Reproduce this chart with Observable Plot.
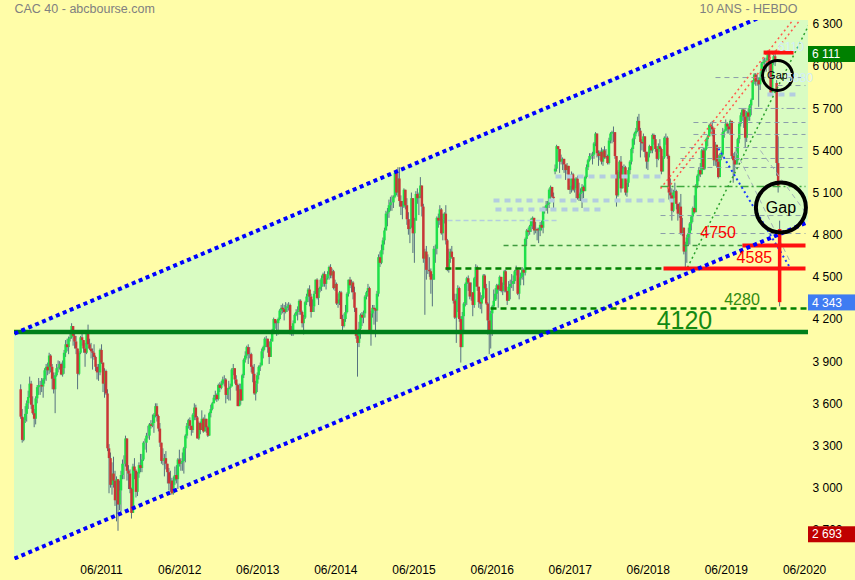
<!DOCTYPE html>
<html><head><meta charset="utf-8">
<script src="https://cdn.jsdelivr.net/npm/d3@7"></script>
<script src="https://cdn.jsdelivr.net/npm/@observablehq/plot@0.6"></script>
<style>
html,body{margin:0;padding:0;background:#fffda8;}
#chart{width:855px;height:580px;overflow:hidden;}
</style>
</head><body><div id="chart"></div>
<script>
// ---------- DATA ----------
const firstWeek = "2010-06-21"; // weekly candles, one per week from this Monday
const closes = [
3505,3340,3480,3525,3600,3645,3740,3590,3530,3490,3635,3715,3730,3730,3720,3770,3835,3860,3835,3940,3860,3775,3700,3800,3850,3855,3880,3805,
3850,3960,4020,4000,4060,4070,4150,4080,4040,3990,3810,3960,4070,4050,3990,3960,4105,4020,3990,3970,3960,3930,3860,3820,3820,3980,3890,3740,3830,3670,3280,3210,3020,3100,3050,2910,3060,2880,2980,3090,3170,3170,3350,3120,3100,2990,2820,3150,3120,2970,3100,3160,
3140,3200,3320,3320,3370,3370,3450,3440,3460,3520,3580,3510,3420,3320,3190,3190,3210,3170,3110,3030,3050,2960,3050,3090,3060,3200,3170,3180,3190,3280,3370,3440,3480,3440,3410,3520,3570,3500,3350,3460,3410,3490,3400,3490,3430,3370,3530,3560,3600,3640,3660,3630,3730,
3710,3740,3770,3770,3660,3700,3710,3720,3840,3850,3770,3730,3580,3700,3620,3800,3910,3940,4000,3950,3950,3860,3810,3670,3740,3800,3860,3870,3970,4000,4060,4060,4000,3930,4040,4120,4200,4170,4170,4200,4260,4280,4270,4250,4280,4290,4300,4110,4100,4170,4230,4250,
4260,4330,4250,4170,4210,4320,4360,4410,4360,4250,4290,4380,4480,4350,4410,4430,4490,4520,4450,4490,4520,4570,4510,4540,4420,4450,4310,4340,4390,4200,4150,4200,4250,4380,4480,4440,4460,4390,4280,4080,4030,4130,4230,4210,4240,4360,4390,4420,4110,4240,4280,4270,
4260,4380,4640,4600,4690,4760,4830,4950,4960,5010,5030,5030,5070,5240,5100,5200,5040,5000,5000,5120,5010,4910,4840,4860,5060,4810,4900,5090,5060,5080,5150,5000,4630,4680,4550,4550,4540,4480,4480,4700,4700,4920,4900,4980,4810,4910,4950,4760,4550,4630,4680,4640,
4330,4210,4340,4420,4200,4000,4220,4310,4450,4490,4460,4360,4390,4300,4490,4570,4430,4320,4310,4350,4510,4420,4310,4190,4110,4240,4290,4330,4380,4440,4410,4500,4400,4440,4540,4400,4330,4430,4450,4450,4470,4540,4550,4380,4490,4500,4550,4530,4770,4830,4820,4860,
4910,4920,4830,4840,4830,4830,4870,4850,4990,4990,5010,5020,5120,5140,5070,5060,5270,5430,5410,5320,5340,5340,5300,5260,5290,5120,5150,5230,5120,5130,5200,5060,5090,5100,5140,5110,5210,5280,5330,5360,5360,5370,5450,5520,5380,5360,5390,5320,5400,5350,5360,5310,
5470,5520,5530,5530,5360,5080,5250,5320,5130,5270,5280,5100,5170,5260,5320,5410,5480,5520,5540,5610,5540,5460,5450,5500,5390,5320,5380,5430,5400,5510,5480,5410,5340,5430,5410,5250,5350,5490,5490,5360,5100,5080,4970,5100,5110,5020,4950,5000,4810,4850,4680,4730,4780,
4810,4880,4930,4990,4960,5150,5220,5260,5230,5400,5270,5410,5480,5500,5580,5570,5550,5330,5440,5320,5210,5360,5370,5530,5540,5590,5570,5550,5610,5360,5330,5300,5330,5480,5590,5650,5690,5640,5490,5670,5640,5720,5760,5890,5940,5890,5900,5870,5920,6020,6030,6040,
6040,6100,6020,5810,6030,6070,6030,5310,5140,4343
];
const highs = [
3735,3560,3500,3580,3620,3690,3790,3760,3650,3560,3650,3730,3780,3760,3780,3780,3850,3880,3890,3960,3950,3880,3820,3820,3880,3905,3900,3890,
3905,3980,4050,4060,4075,4110,4170,4150,4110,4080,3990,3970,4080,4100,4050,4030,4110,4160,4060,4030,3990,4020,3940,3880,3880,3990,4020,3860,3850,3840,3700,3310,3250,3180,3220,3120,3080,3060,3050,3120,3200,3230,3370,3330,3160,3130,3000,3170,3210,3130,3110,3180,
3240,3240,3330,3350,3390,3440,3460,3480,3520,3530,3600,3600,3520,3460,3300,3280,3240,3260,3160,3140,3120,3070,3080,3150,3160,3210,3270,3210,3250,3290,3380,3460,3490,3500,3440,3530,3600,3590,3510,3470,3470,3550,3500,3520,3490,3440,3540,3590,3610,3660,3690,3670,3740,
3750,3760,3790,3800,3780,3710,3760,3740,3850,3880,3840,3800,3740,3740,3740,3810,3920,3970,4010,4020,4000,3960,3870,3880,3760,3820,3870,3890,3990,4010,4070,4080,4060,4040,4060,4130,4210,4200,4190,4210,4270,4300,4310,4300,4320,4310,4320,4310,4150,4190,4240,4270,
4290,4340,4340,4260,4230,4330,4380,4420,4440,4380,4340,4400,4480,4490,4420,4480,4510,4530,4540,4510,4540,4580,4590,4560,4550,4480,4460,4380,4400,4400,4230,4240,4300,4390,4480,4500,4480,4470,4430,4280,4100,4180,4240,4250,4260,4370,4400,4450,4430,4260,4300,4300,
4280,4400,4660,4680,4730,4780,4850,4970,4990,5050,5070,5080,5080,5250,5240,5280,5280,5080,5040,5130,5110,5060,4960,4910,5100,5060,4920,5110,5130,5100,5210,5140,5020,4700,4720,4660,4640,4560,4520,4720,4730,4930,4950,5010,4990,4950,4960,5010,4770,4700,4700,4720,
4640,4380,4380,4440,4430,4220,4250,4320,4460,4500,4510,4460,4460,4390,4500,4590,4580,4430,4390,4370,4520,4520,4450,4320,4470,4260,4300,4410,4420,4450,4450,4510,4500,4460,4550,4550,4400,4470,4480,4520,4510,4550,4580,4560,4550,4530,4570,4560,4780,4840,4850,4870,
4920,4930,4920,4890,4850,4850,4890,4900,5000,5000,5040,5040,5130,5150,5140,5100,5300,5440,5430,5410,5370,5350,5340,5300,5310,5290,5200,5250,5240,5200,5210,5220,5170,5130,5160,5150,5220,5300,5340,5380,5380,5390,5460,5530,5520,5400,5400,5420,5410,5430,5410,5370,
5490,5530,5540,5570,5530,5330,5260,5330,5360,5290,5300,5290,5190,5280,5330,5420,5490,5530,5560,5640,5660,5560,5480,5520,5480,5390,5390,5440,5430,5520,5520,5510,5430,5450,5480,5420,5360,5500,5520,5500,5370,5200,5130,5120,5170,5120,5020,5030,5090,4920,4850,4750,4800,
4850,4890,4940,5000,5080,5160,5230,5280,5310,5410,5420,5420,5490,5510,5590,5600,5610,5560,5460,5420,5370,5380,5400,5560,5550,5620,5600,5590,5620,5610,5380,5390,5420,5490,5600,5670,5700,5700,5690,5680,5700,5730,5770,5900,5950,5950,5940,5920,5960,6030,6050,6060,
6060,6110,6100,6020,6040,6080,6111,5900,5500,4900
];
const lows = [
3490,3320,3330,3460,3470,3560,3640,3560,3520,3430,3450,3600,3660,3660,3680,3640,3740,3760,3800,3810,3820,3700,3670,3530,3790,3820,3840,3800,
3790,3810,3930,3970,3950,4040,4060,4010,3990,3950,3700,3800,3950,4010,3960,3860,3950,3990,3980,3920,3840,3910,3830,3770,3760,3800,3880,3680,3640,3660,3260,2960,3000,2950,3000,2870,2760,2693,2840,2830,3060,3060,3150,3050,2990,2960,2780,2830,3060,2930,2940,3070,
3110,3110,3190,3270,3250,3350,3340,3420,3430,3390,3500,3470,3400,3290,3170,3160,3080,3130,3030,2980,2970,2950,2950,3020,3030,2990,3150,3120,3120,3100,3180,3350,3420,3410,3370,3390,3480,3480,3350,3340,3380,3420,3390,3400,3390,3360,3380,3500,3550,3600,3620,3610,3620,
3680,3700,3730,3720,3600,3630,3620,3620,3720,3800,3740,3690,3580,3600,3590,3640,3780,3890,3920,3880,3920,3820,3750,3660,3620,3680,3770,3830,3870,3920,3980,4000,3960,3880,3930,4040,4100,4130,4080,4090,4190,4230,4240,4190,4240,4250,4260,4090,4080,4080,4170,4220,
4190,4230,4230,4140,4090,4200,4300,4320,4290,4210,4250,4250,4380,4340,4300,4390,4400,4430,4430,4410,4480,4480,4490,4490,4410,4400,4300,4280,4300,4200,4110,4140,4180,4240,4360,4420,4390,4340,4250,4060,3790,4000,4060,4150,4170,4210,4340,4360,4100,4010,4210,4160,
4070,4180,4360,4570,4590,4660,4730,4830,4860,4920,4970,4970,4990,5060,5080,5070,5000,4940,4910,4990,4980,4870,4800,4740,4850,4670,4600,4900,5020,4940,5060,4930,4600,4230,4480,4520,4500,4380,4290,4490,4600,4660,4850,4870,4800,4760,4880,4730,4540,4530,4600,4630,
4310,4200,4030,4250,4180,3890,4050,4120,4290,4300,4400,4340,4330,4220,4280,4430,4400,4280,4270,4240,4340,4410,4300,4090,3950,3990,4080,4280,4330,4340,4280,4400,4390,4370,4390,4390,4300,4340,4340,4420,4400,4450,4510,4370,4340,4440,4480,4440,4510,4720,4790,4800,
4820,4840,4800,4810,4760,4740,4790,4830,4810,4950,4970,4950,4990,5050,5060,4990,5230,5250,5320,5240,5300,5260,5240,5190,5230,5120,5090,5100,5110,5100,5060,5050,5040,5040,4990,5060,5110,5200,5260,5320,5340,5300,5340,5430,5350,5290,5330,5300,5290,5340,5340,5300,
5300,5450,5450,5460,5340,5000,5070,5200,5100,5130,5230,5080,5070,5140,5230,5300,5380,5440,5500,5530,5500,5350,5400,5390,5350,5270,5260,5350,5380,5380,5440,5390,5280,5330,5390,5230,5250,5340,5440,5340,5050,5040,4900,4960,5060,4980,4900,4920,4800,4790,4660,4555,4600,
4720,4730,4830,4890,4950,4990,5130,5180,5210,5250,5260,5260,5400,5430,5500,5520,5500,5290,5290,5280,5200,5210,5330,5350,5490,5540,5520,5520,5510,5340,5170,5240,5300,5300,5450,5570,5610,5560,5420,5460,5610,5610,5650,5760,5870,5860,5860,5710,5830,5900,6010,5980,
5960,6040,5960,5790,5800,6010,6000,5220,5100,4290
];
// weeks whose open differs from the previous close (gaps)
const openGaps = [["2010-06-21", 3700], ["2017-04-24", 5250], ["2020-02-24", 5880], ["2020-03-09", 4830]];

// trend channel (date, value)
const channelUpper = [["2010-05-23", 4100], ["2020-07-22", 6497]];
const channelLower = [["2010-05-23", 2499], ["2020-07-22", 4895]];
// horizontal levels [from, to, value]
const level4120 = [4112];
const greenDashed = [["2015-11-28", "2018-09-13", 4563], ["2016-06-26", "2020-07-22", 4278]];
const greenThinDashed = [["2016-08-26", "2019-09-17", 4727]];
const greenDashDot = [["2018-08-30", "2020-07-08", 5147]];
const redLevels = [["2018-09-13", "2020-07-08", 4563], ["2019-09-17", "2020-07-08", 4727], ["2019-12-25", "2020-05-13", 6100]];
const paleBlueThick = [["2017-04-26", "2018-09-13", 5218], ["2016-07-10", "2018-10-30", 5047], ["2016-07-19", "2017-12-06", 4983], ["2020-01-12", "2020-06-14", 5801]];
const paleBlueThin = [["2015-12-08", "2017-05-10", 4905]];
const grayDashed = [["2019-05-14", "2020-07-08", 5922], ["2020-02-28", "2020-07-08", 5865], ["2019-01-31", "2020-07-08", 5602],
  ["2019-01-31", "2020-07-08", 5517], ["2018-12-01", "2020-07-08", 5424], ["2018-12-01", "2020-07-08", 5346], ["2018-12-01", "2020-07-08", 5282],
  ["2018-08-30", "2020-07-08", 4940], ["2018-08-30", "2020-07-08", 4812]];
const grayDashDot = [["2019-08-30", "2020-07-08", 5702]];
// trend segments [[date, value], [date, value]]
const redTrends = [[["2018-08-30", 5132], ["2020-06-14", 6399]], [["2018-10-02", 5132], ["2020-07-17", 6399]]];
const greenTrends = [[["2019-01-03", 4570], ["2020-07-22", 6292]]];
const blueTrends = [[["2019-05-28", 5417], ["2020-04-29", 4563]]];
const grayTrends = [[["2019-08-16", 5403], ["2020-04-29", 4606]], [["2019-12-10", 5403], ["2020-07-08", 4962]]];
// last weekly candle highlighted in red
const lastBar = [["2020-03-09", 4840, 4320]];
// annotations
const gapTop = [["2020-02-28", 5937, "Gap"]];
const gapBottom = [["2020-03-15", 4997, "Gap"]];
const bigLabel = [["2018-12-20", 4186, "4120"]];
const greenLabels = [["2019-09-15", 4342, "4280"]];
const redLabels = [["2019-05-26", 4816, "4750"], ["2019-11-12", 4638, "4585"]];
const paleLabels = [["2020-05-01", 6135, "6110"], ["2020-06-10", 5915, "5880"]];
// axes
const yTicks = [2700, 3000, 3300, 3600, 3900, 4200, 4500, 4800, 5100, 5400, 5700, 6000, 6300];
const xTicks = ["2011-06-01", "2012-06-01", "2013-06-01", "2014-06-01", "2015-06-01", "2016-06-01", "2017-06-01", "2018-06-01", "2019-06-01", "2020-06-01"];
const xDomain = ["2010-05-23", "2020-07-22"];
const yDomain = [2485, 6328];
// price tags on the right
const tagValues = [6111, 4343, 2693];
const tagColors = ["#008000", "#3f7cf2", "#c00000"];

// ---------- BUILD ----------
const parse = s => new Date(s + "T00:00:00Z");
const fr = d3.formatLocale({decimal: ",", thousands: " ", grouping: [3], currency: ["", " €"]});
const fmt = fr.format(",d");
const gapMap = new Map(openGaps);
const t0 = parse(firstWeek);
const candles = closes.map((c, i) => {
  const date = d3.utcDay.offset(t0, 7 * i);
  const key = d3.utcFormat("%Y-%m-%d")(date);
  const open = gapMap.has(key) ? gapMap.get(key) : closes[i - 1];
  const h = highs[i] ?? Math.max(open, c), l = lows[i] ?? Math.min(open, c);
  return {date, open, close: c, high: Math.max(h, open, c), low: Math.min(l, open, c)};
});
const up = candles.filter(d => d.close >= d.open);
const down = candles.filter(d => d.close < d.open);

const channelFill = channelUpper.map((u, i) => ({date: parse(u[0]), hi: u[1], lo: channelLower[i][1]}));
const pts = arr => arr.map(([d, v]) => ({date: parse(d), v}));
const seg = ([a, b, v]) => ({x1: parse(a), x2: parse(b), y1: v, y2: v});
const diag = ([[a, v1], [b, v2]]) => ({x1: parse(a), x2: parse(b), y1: v1, y2: v2});
const lab = ([d, v, t]) => ({date: parse(d), v, t});
const L = {x1: "x1", x2: "x2", y1: "y1", y2: "y2", clip: true, strokeLinecap: "butt"};
const T = {x: "date", y: "v", text: "t", textAnchor: "middle", lineAnchor: "middle"};
const font = "Liberation Sans, Arial, Helvetica, sans-serif";

const chart = Plot.plot({
  width: 855, height: 580,
  marginLeft: 14, marginRight: 47, marginTop: 20, marginBottom: 20,
  style: {background: "transparent", fontFamily: font, fontSize: "12px", color: "#000", overflow: "visible"},
  x: {type: "utc", domain: xDomain.map(parse), axis: null},
  y: {type: "linear", domain: yDomain, axis: null},
  marks: [
    Plot.areaY(channelFill, {x: "date", y1: "lo", y2: "hi", fill: "#d9fcc2", clip: true}),
    // candles
    Plot.ruleX(candles, {x: "date", y1: "low", y2: "high", stroke: "#56717f", strokeWidth: 1}),
    Plot.ruleX(up, {x: "date", y1: "open", y2: "close", stroke: "#1fe04a", strokeWidth: 2.5}),
    Plot.ruleX(down, {x: "date", y1: "open", y2: "close", stroke: "#c83636", strokeWidth: 2.5}),
    // supports / resistances
    Plot.link(paleBlueThick.map(seg), {...L, stroke: "#b4cde0", strokeWidth: 4, strokeDasharray: "6,5"}),
    Plot.link(paleBlueThin.map(seg), {...L, stroke: "#b4cde0", strokeWidth: 1.5, strokeDasharray: "5,3"}),
    Plot.link(grayDashed.map(seg), {...L, stroke: "#8b9cab", strokeWidth: 1, strokeDasharray: "5,4"}),
    Plot.link(grayDashDot.map(seg), {...L, stroke: "#8b9cab", strokeWidth: 1, strokeDasharray: "8,3,2,3"}),
    Plot.link(grayTrends.map(diag), {...L, stroke: "#a3b0b8", strokeWidth: 1, strokeDasharray: "5,4"}),
    Plot.link(greenThinDashed.map(seg), {...L, stroke: "#3f9a3f", strokeWidth: 1.5, strokeDasharray: "5,4"}),
    Plot.link(greenDashDot.map(seg), {...L, stroke: "#3fa83f", strokeWidth: 1.5, strokeDasharray: "8,3,2,3"}),
    Plot.link(greenDashed.map(seg), {...L, stroke: "#008000", strokeWidth: 2.5, strokeDasharray: "6,4"}),
    Plot.link(redTrends.map(diag), {...L, stroke: "#ff5a4a", strokeWidth: 1.5, strokeDasharray: "2,3"}),
    Plot.link(greenTrends.map(diag), {...L, stroke: "#2ca02c", strokeWidth: 1.5, strokeDasharray: "2,3"}),
    Plot.link(blueTrends.map(diag), {...L, stroke: "#1a3cff", strokeWidth: 2, strokeDasharray: "2,3"}),
    Plot.link(redLevels.map(seg), {...L, stroke: "#ff1010", strokeWidth: 4}),
    Plot.ruleX(lastBar.map(([d, a, b]) => ({date: parse(d), a, b})), {x: "date", y1: "a", y2: "b", stroke: "#ff1010", strokeWidth: 3.5}),
    Plot.ruleY(level4120, {stroke: "#00801a", strokeWidth: 4.5}),
    // channel
    Plot.line(pts(channelUpper), {x: "date", y: "v", stroke: "#0000ff", strokeWidth: 4, strokeDasharray: "4,3.5", strokeLinecap: "butt", clip: true}),
    Plot.line(pts(channelLower), {x: "date", y: "v", stroke: "#0000ff", strokeWidth: 4, strokeDasharray: "4,3.5", strokeLinecap: "butt", clip: true}),
    // gap circles
    Plot.dot(gapTop.map(lab), {x: "date", y: "v", r: 15, stroke: "#000", strokeWidth: 3, fill: "none"}),
    Plot.dot(gapBottom.map(lab), {x: "date", y: "v", r: 25, stroke: "#000", strokeWidth: 4, fill: "none"}),
    Plot.text(gapTop.map(lab), {...T, fontSize: 11, fill: "#000"}),
    Plot.text(gapBottom.map(lab), {...T, fontSize: 16, fill: "#000"}),
    // labels
    Plot.text(bigLabel.map(lab), {...T, fontSize: 25, fill: "#138a13"}),
    Plot.text(greenLabels.map(lab), {...T, fontSize: 16, fill: "#2f8a10"}),
    Plot.text(redLabels.map(lab), {...T, fontSize: 16, fill: "#ff0000"}),
    Plot.text(paleLabels.map(lab), {...T, fontSize: 12, fill: "#d2eefb"}),
    // axes
    Plot.text(xTicks.map(parse), {x: d => d, text: d => d3.utcFormat("%m/%Y")(d), frameAnchor: "bottom", dy: 10, dx: 7, lineAnchor: "middle", fontSize: 12, fill: "#000"}),
    Plot.text(yTicks, {y: d => d, text: d => fmt(d), frameAnchor: "right", textAnchor: "start", dx: 4, lineAnchor: "middle", fontSize: 12, fill: "#000"}),
    // titles
    Plot.text(["CAC 40 - abcbourse.com"], {frameAnchor: "top-left", textAnchor: "start", lineAnchor: "middle", dy: -11.5, fontSize: 12.5, fill: "#808080"}),
    Plot.text(["10 ANS - HEBDO"], {frameAnchor: "top-right", textAnchor: "end", lineAnchor: "middle", dy: -11.5, dx: -11, fontSize: 12.5, fill: "#808080"})
  ]
});

// price tags drawn through the plot's own y scale
const ys = chart.scale("y");
const svg = d3.select(chart);
const g = svg.append("g").attr("font-family", font).attr("font-size", 12).attr("text-anchor", "start");
tagValues.forEach((v, i) => {
  const y = ys.apply(v) + 3.5;
  g.append("rect").attr("x", 808).attr("y", y - 8).attr("width", 47).attr("height", 16).attr("fill", tagColors[i]);
  g.append("text").attr("x", 812).attr("y", y).attr("dy", "0.35em").attr("text-anchor", "start").attr("fill", "#fff").text(fmt(v));
});
document.getElementById("chart").append(chart);
</script>
</body></html>
